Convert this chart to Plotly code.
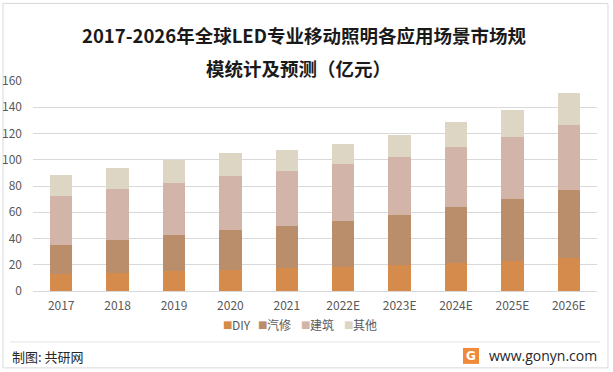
import plotly.graph_objects as go

years = ["2017", "2018", "2019", "2020", "2021", "2022E", "2023E", "2024E", "2025E", "2026E"]
diy = [13.2, 13.7, 15.2, 16.2, 17.5, 18.3, 19.8, 21.0, 22.8, 25.1]
qixiu = [21.8, 25.1, 27.4, 30.2, 31.9, 34.9, 38.0, 42.9, 47.2, 51.7]
jianzhu = [37.3, 38.8, 39.6, 41.1, 41.9, 43.4, 44.1, 45.6, 47.1, 49.5]
qita = [15.9, 16.0, 17.4, 17.5, 15.9, 15.2, 16.8, 19.0, 20.6, 24.3]

series_names = ["DIY", "汽修", "建筑", "其他"]
series_vals = [diy, qixiu, jianzhu, qita]
colors = ["#D58B4C", "#BB8E6B", "#D3B4A9", "#DED6C4"]

W, H = 613, 372
L, R, T, B = 33, 597, 80.7, 291.0

def px(x):
    return (x - L) / (R - L)

def py(y):
    return (B - y) / (B - T)

cjk = "Noto Sans CJK SC"
num_font = "Liberation Sans Narrow, Noto Sans CJK SC"

fig = go.Figure()
for name, vals, c in zip(series_names, series_vals, colors):
    fig.add_trace(go.Bar(x=years, y=vals, name=name, marker=dict(color=c, line=dict(width=0)),
                         showlegend=False))

fig.update_layout(
    width=W, height=H,
    barmode="stack", bargap=0.6,
    paper_bgcolor="white", plot_bgcolor="white",
    margin=dict(l=L, r=W - R, t=T, b=H - B, pad=0, autoexpand=False),
    showlegend=False,
    xaxis=dict(showgrid=False, showline=False, ticks="", ticklabelstandoff=6,
               tickfont=dict(family=num_font, size=12, color="#595959")),
    yaxis=dict(range=[0, 160], dtick=20, showgrid=True, gridcolor="#D9D9D9", gridwidth=1,
               zeroline=True, zerolinecolor="#D9D9D9", zerolinewidth=1, showline=False, ticks="",
               ticklabelstandoff=10,
               tickfont=dict(family=num_font, size=12, color="#595959")),
)

annotations = [
    dict(text="<b>2017-2026年全球LED专业移动照明各应用场景市场规</b>", x=px(304), y=py(35), xref="paper", yref="paper",
         showarrow=False, font=dict(family=cjk, size=18.5, color="#1a1a1a"), xanchor="center", yanchor="middle"),
    dict(text="<b>模统计及预测（亿元）</b>", x=px(298), y=py(68), xref="paper", yref="paper",
         showarrow=False, font=dict(family=cjk, size=18.5, color="#1a1a1a"), xanchor="center", yanchor="middle"),
    dict(text="制图: 共研网", x=px(10), y=py(357), xref="paper", yref="paper", showarrow=False,
         font=dict(family=cjk, size=13, color="#262626"), xanchor="left", yanchor="middle"),
    dict(text="www.gonyn.com", x=px(599), y=py(356), xref="paper", yref="paper", showarrow=False,
         font=dict(family="Open Sans, DejaVu Sans", size=14, color="#262626"), xanchor="right", yanchor="middle"),
    dict(text="<b>G</b>", x=px(471), y=py(356), xref="paper", yref="paper", showarrow=False,
         font=dict(family="DejaVu Sans", size=12, color="white"), xanchor="center", yanchor="middle"),
]

# compact legend
legend_x = [222, 257, 300, 343]
for name, c, lx in zip(series_names, colors, legend_x):
    annotations.append(dict(text="■", x=px(lx - 1), y=py(325), xref="paper", yref="paper", showarrow=False,
                            font=dict(family="DejaVu Sans", size=10, color=c), xanchor="left", yanchor="middle"))
    annotations.append(dict(text=name, x=px(lx + 8), y=py(325), xref="paper", yref="paper", showarrow=False,
                            font=dict(family=cjk, size=12, color="#595959"), xanchor="left", yanchor="middle"))
fig.update_layout(annotations=annotations)

shapes = [
    dict(type="rect", xref="paper", yref="paper", x0=px(3), x1=px(608), y0=py(368), y1=py(3),
         line=dict(color="#D9D9D9", width=1), fillcolor="rgba(0,0,0,0)", layer="below"),
    dict(type="line", xref="paper", yref="paper", x0=px(10), x1=px(600), y0=py(342), y1=py(342),
         line=dict(color="#E3E3E3", width=1)),
    dict(type="rect", xref="paper", yref="paper", x0=px(463), x1=px(479), y0=py(364), y1=py(348),
         line=dict(width=0), fillcolor="#F08A3A"),
]
fig.update_layout(shapes=shapes)

fig.write_html("out.html", config={"displayModeBar": False},
               post_script="document.body.style.margin='0';document.body.style.overflow='hidden';")
